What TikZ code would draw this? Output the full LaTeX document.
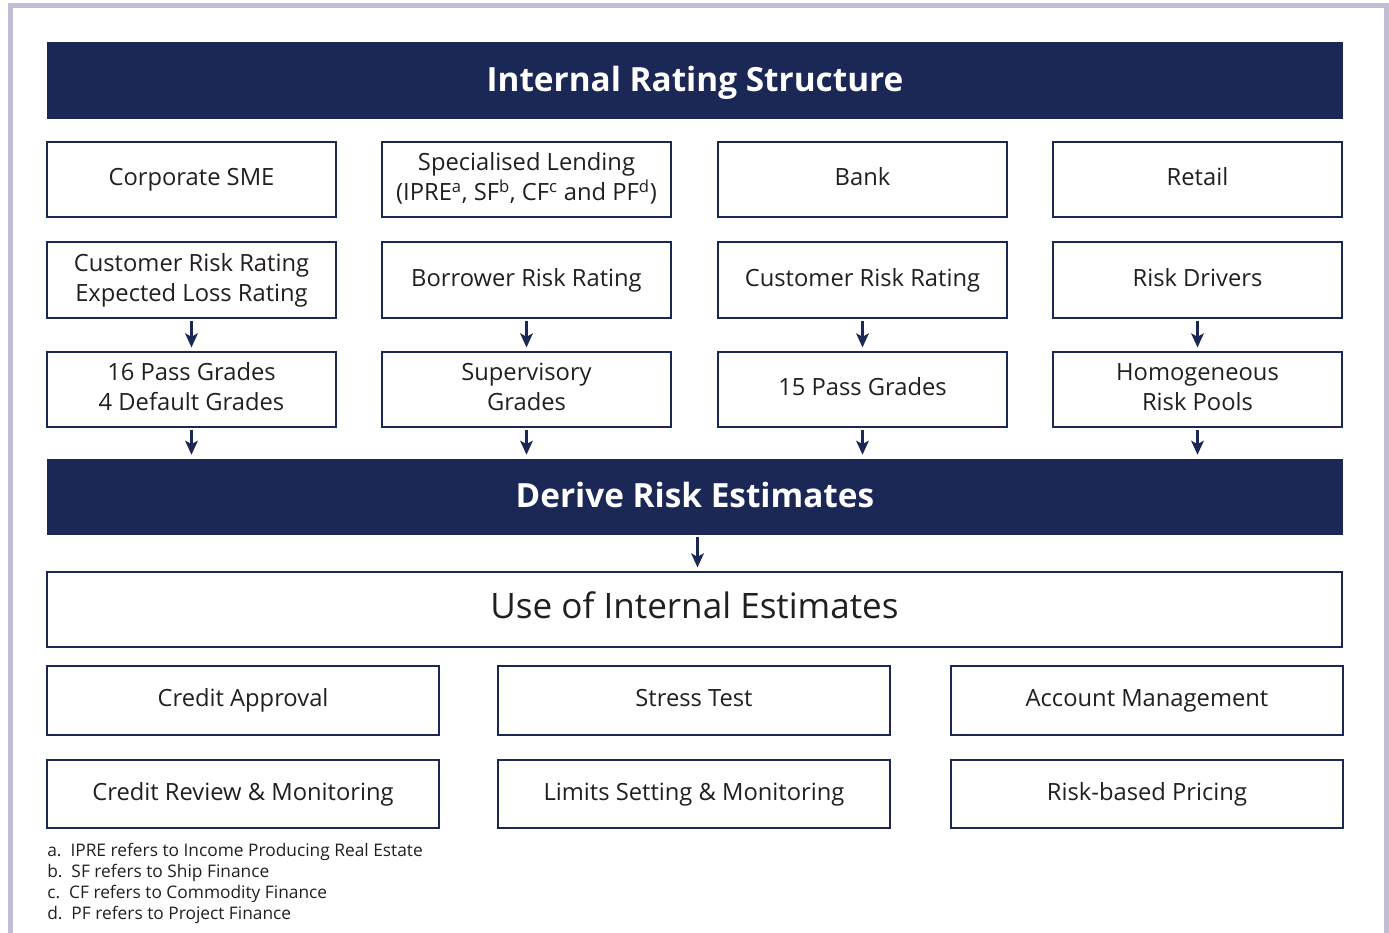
\documentclass[tikz,border=0pt]{standalone}
\usepackage{fontspec}
\setmainfont{Open Sans}
\usetikzlibrary{arrows.meta}
\definecolor{navy}{RGB}{27,40,86}
\definecolor{framec}{RGB}{191,190,211}
\definecolor{ink}{RGB}{35,31,32}
\begin{document}
\begin{tikzpicture}[x=0.75pt,y=-0.75pt,
 box/.style={draw=navy,line width=0.9pt,fill=white,text=ink,align=center,inner sep=0pt,font=\fontsize{17.8}{22.5}\selectfont},
 bar/.style={fill=navy,text=white,inner sep=0pt,text height=22pt,text depth=6pt,font=\bfseries\fontsize{25}{30}\selectfont},
 arr/.style={draw=navy,line width=1.6pt,-{Stealth[length=10.5pt,width=9.5pt,inset=2.5pt]},shorten <=1.5pt,shorten >=3pt},
 note/.style={anchor=west,inner sep=0pt,text=ink,font=\fontsize{13}{15}\selectfont}]
\useasboundingbox (0,0) rectangle (1389,932);
\begin{scope}
\clip (0,0) rectangle (1389,932);
\draw[framec,line width=3.75pt] (10.5,5.5) rectangle (1386,1000);
\end{scope}
% title bar
\node[bar,minimum width=1296*0.75pt,minimum height=77*0.75pt] (title) at (695,80.5) {Internal Rating Structure};
% row 1
\foreach \n/\x/\t in {a/191.5/{Corporate SME},b/526.5/{Specialised Lending\\(IPRE\textsuperscript{a}, SF\textsuperscript{b}, CF\textsuperscript{c} and PF\textsuperscript{d})},c/862.5/{Bank},d/1197.5/{Retail}}
  \node[box,minimum width=289*0.75pt,minimum height=75*0.75pt] (r1\n) at (\x,179.5) {\strut\t\strut};
% row 2
\foreach \n/\x/\t in {a/191.5/{Customer Risk Rating\\Expected Loss Rating},b/526.5/{Borrower Risk Rating},c/862.5/{Customer Risk Rating},d/1197.5/{Risk Drivers}}
  \node[box,minimum width=289*0.75pt,minimum height=76*0.75pt] (r2\n) at (\x,280) {\strut\t\strut};
% row 3
\foreach \n/\x/\t in {a/191.5/{16 Pass Grades\\4 Default Grades},b/526.5/{Supervisory\\Grades},c/862.5/{15 Pass Grades},d/1197.5/{Homogeneous\\Risk Pools}}
  \node[box,minimum width=289*0.75pt,minimum height=75*0.75pt] (r3\n) at (\x,389.5) {\strut\t\strut};
% derive bar
\node[bar,minimum width=1296*0.75pt,minimum height=76*0.75pt] (derive) at (695,497) {Derive Risk Estimates};
% arrows
\foreach \n in {a,b,c,d}{
  \draw[arr] (r2\n.south) -- (r3\n.north);
  \draw[arr] (r3\n.south) -- (r3\n.south |- derive.north);
}
% use box
\node[box,minimum width=1295*0.75pt,minimum height=75*0.75pt,font=\fontsize{26.3}{32}\selectfont] (use) at (694.5,609.5) {\strut Use of Internal Estimates};
\draw[arr] ([xshift=2.5*0.75pt]derive.south) -- ([xshift=2.5*0.75pt]derive.south |- use.north);
% bottom rows
\foreach \n/\x/\t in {a/243/{Credit Approval},b/694/{Stress Test},c/1147/{Account Management}}
  \node[box,minimum width=392*0.75pt,minimum height=69*0.75pt] (u1\n) at (\x,700.5) {\strut\t};
\foreach \n/\x/\t in {a/243/{Credit Review \& Monitoring},b/694/{Limits Setting \& Monitoring},c/1147/{Risk-based Pricing}}
  \node[box,minimum width=392*0.75pt,minimum height=68*0.75pt] (u2\n) at (\x,794) {\strut\t};
% footnotes
\node[note] (fa) at (47,852) {a.\ \ IPRE refers to Income Producing Real Estate};
\node[note] (fb) at (47,873) {b.\ \ SF refers to Ship Finance};
\node[note] (fc) at (47,894) {c.\ \ CF refers to Commodity Finance};
\node[note] (fd) at (47,915) {d.\ \ PF refers to Project Finance};
\end{tikzpicture}
\end{document}
